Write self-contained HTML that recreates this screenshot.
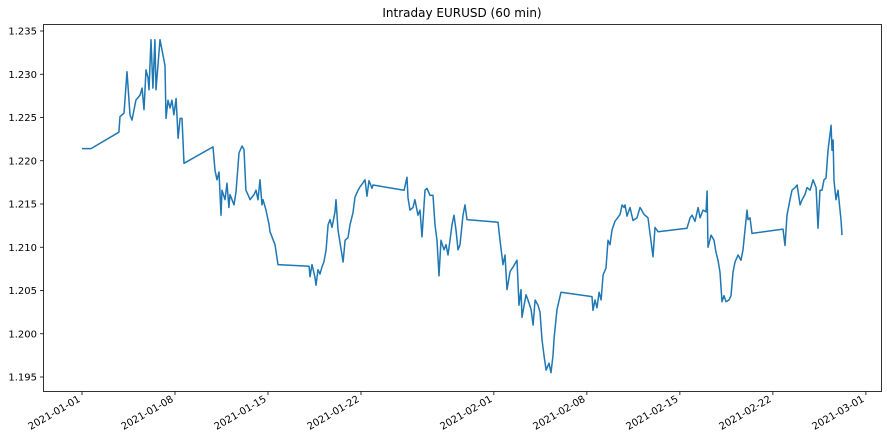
<!DOCTYPE html>
<html><head><meta charset="utf-8"><style>
body{margin:0;background:#fff;}
svg text{font-family:"DejaVu Sans","Liberation Sans",sans-serif;font-size:10px;fill:#000;}
</style></head><body>
<svg id="chart" width="887" height="442" xmlns="http://www.w3.org/2000/svg">
<text x="462" y="17" text-anchor="middle" font-size="12" style="font-size:12px">Intraday EURUSD (60 min)</text>
<g id="grid"></g>
<path id="line" fill="none" stroke="#1f77b4" stroke-width="1.5" stroke-linejoin="round"></path>
<rect x="43.5" y="24.5" width="838" height="367" fill="none" stroke="#000" stroke-width="0.8"/>
</svg>
<script>
const days=[0,0.68,2.78,2.86,3.16,3.39,3.61,3.76,4.06,4.37,4.52,4.67,4.82,4.97,5.04,5.19,5.34,5.49,5.57,5.87,6.10,6.25,6.32,6.47,6.62,6.77,6.92,7.08,7.23,7.38,7.53,7.68,9.86,10.01,10.16,10.31,10.46,10.54,10.76,10.91,11.06,11.14,11.29,11.44,11.59,11.82,12.04,12.19,12.34,12.49,12.65,12.95,13.10,13.25,13.40,13.55,13.62,13.85,14.08,14.15,14.53,14.75,17.09,17.16,17.31,17.54,17.61,17.76,17.91,18.06,18.21,18.37,18.52,18.67,18.82,19.04,19.12,19.27,19.65,19.80,20.02,20.17,20.40,20.55,20.78,20.93,21.08,21.30,21.45,21.60,21.83,21.90,24.24,24.46,24.54,24.69,24.91,25.06,25.29,25.44,25.59,25.82,25.97,26.19,26.42,26.57,26.72,26.87,27.02,27.25,27.40,27.55,27.70,27.85,28.00,28.15,28.30,28.45,28.68,28.83,28.98,31.31,31.46,31.69,31.84,31.99,32.22,32.44,32.74,32.89,33.04,33.12,33.42,33.57,33.80,33.95,34.10,34.32,34.47,34.62,34.77,34.93,35.15,35.30,35.45,35.53,35.75,36.05,38.39,38.46,38.61,38.76,38.92,39.07,39.22,39.44,39.59,39.74,39.89,40.12,40.50,40.65,40.80,40.87,41.02,41.25,41.47,41.77,42.00,42.08,42.30,42.60,42.83,42.98,43.13,43.36,45.54,45.77,45.92,46.14,46.37,46.52,46.74,46.97,47.05,47.12,47.35,47.57,47.72,47.87,48.02,48.17,48.32,48.47,48.70,48.85,49.00,49.15,49.38,49.60,49.75,50.05,50.13,50.28,50.43,52.76,52.91,53.06,53.29,53.44,53.67,53.82,54.05,54.20,54.42,54.57,54.80,55.03,55.25,55.40,55.55,55.70,55.85,56.00,56.15,56.38,56.45,56.53,56.60,56.75,56.90,57.05,57.13,57.20];
const prices=[1.2214,1.2214,1.2233,1.2251,1.2255,1.2303,1.2253,1.2247,1.2270,1.2276,1.2284,1.2259,1.2305,1.2296,1.2282,1.2340,1.2284,1.2340,1.2282,1.2340,1.2322,1.2310,1.2249,1.2270,1.2261,1.2270,1.2253,1.2272,1.2226,1.2249,1.2249,1.2197,1.2216,1.2189,1.2178,1.2187,1.2137,1.2166,1.2155,1.2174,1.2146,1.2161,1.2155,1.2149,1.2164,1.2209,1.2217,1.2213,1.2166,1.2161,1.2155,1.2161,1.2166,1.2155,1.2178,1.2149,1.2155,1.2143,1.2126,1.2118,1.2103,1.2080,1.2078,1.2066,1.2080,1.2065,1.2056,1.2074,1.2069,1.2077,1.2083,1.2097,1.2126,1.2132,1.2123,1.2141,1.2155,1.2120,1.2083,1.2108,1.2111,1.2126,1.2140,1.2158,1.2166,1.2170,1.2173,1.2178,1.2159,1.2177,1.2168,1.2172,1.2166,1.2181,1.2157,1.2143,1.2146,1.2155,1.2137,1.2143,1.2112,1.2166,1.2168,1.2160,1.2160,1.2126,1.2108,1.2067,1.2108,1.2097,1.2103,1.2091,1.2108,1.2126,1.2137,1.2120,1.2097,1.2103,1.2137,1.2149,1.2132,1.2129,1.2108,1.2080,1.2091,1.2051,1.2072,1.2077,1.2085,1.2033,1.2051,1.2019,1.2045,1.2039,1.2028,1.2010,1.2039,1.2033,1.2025,1.1993,1.1975,1.1958,1.1966,1.1955,1.1975,1.1995,1.2028,1.2048,1.2043,1.2027,1.2039,1.2030,1.2048,1.2039,1.2068,1.2076,1.2108,1.2103,1.2120,1.2130,1.2138,1.2149,1.2146,1.2149,1.2136,1.2146,1.2131,1.2134,1.2146,1.2144,1.2138,1.2134,1.2107,1.2089,1.2123,1.2118,1.2122,1.2134,1.2137,1.2130,1.2146,1.2134,1.2143,1.2141,1.2165,1.2100,1.2114,1.2108,1.2094,1.2085,1.2071,1.2037,1.2044,1.2037,1.2039,1.2044,1.2071,1.2083,1.2091,1.2085,1.2097,1.2143,1.2132,1.2134,1.2116,1.2121,1.2102,1.2137,1.2155,1.2166,1.2169,1.2172,1.2149,1.2155,1.2161,1.2169,1.2166,1.2178,1.2169,1.2122,1.2166,1.2166,1.2178,1.2180,1.2212,1.2241,1.2212,1.2224,1.2177,1.2155,1.2166,1.2143,1.2132,1.2114];
const yTicks=[1.195,1.200,1.205,1.210,1.215,1.220,1.225,1.230,1.235];
const xTickDays=[0,7,14,21,31,38,45,52,59];
const xTickLabels=["2021-01-01","2021-01-08","2021-01-15","2021-01-22","2021-02-01","2021-02-08","2021-02-15","2021-02-22","2021-03-01"];

const X=d=>82+d*13.286;
const Y=v=>31+(1.235-v)*8650;
const NS="http://www.w3.org/2000/svg";
const g=document.getElementById('grid');
yTicks.forEach(v=>{
  const y=Y(v);
  const t=document.createElementNS(NS,'line');
  t.setAttribute('x1',40);t.setAttribute('x2',43.5);t.setAttribute('y1',y);t.setAttribute('y2',y);t.setAttribute('stroke','#000');t.setAttribute('stroke-width','0.8');
  
  
  g.appendChild(t);
  const l=document.createElementNS(NS,'text');
  l.setAttribute('x',37);l.setAttribute('y',y+3.5);l.setAttribute('text-anchor','end');
  l.textContent=v.toFixed(3);
  
  
  g.appendChild(l);
});
xTickDays.forEach((d,i)=>{
  const x=X(d);
  const t=document.createElementNS(NS,'line');
  t.setAttribute('x1',x);t.setAttribute('x2',x);t.setAttribute('y1',391.5);t.setAttribute('y2',395);t.setAttribute('stroke','#000');t.setAttribute('stroke-width','0.8');
  
  
  g.appendChild(t);
  const l=document.createElementNS(NS,'text');
  l.setAttribute('text-anchor','end');
  l.setAttribute('transform','translate('+(x-1)+',401) rotate(-30)');
  l.textContent=xTickLabels[i];
  
  
  g.appendChild(l);
});
let dstr='';
days.forEach((d,i)=>{dstr+=(i?'L':'M')+X(d).toFixed(1)+','+Y(prices[i]).toFixed(1);});
document.getElementById('line').setAttribute('d',dstr);
</script>
</body></html>
